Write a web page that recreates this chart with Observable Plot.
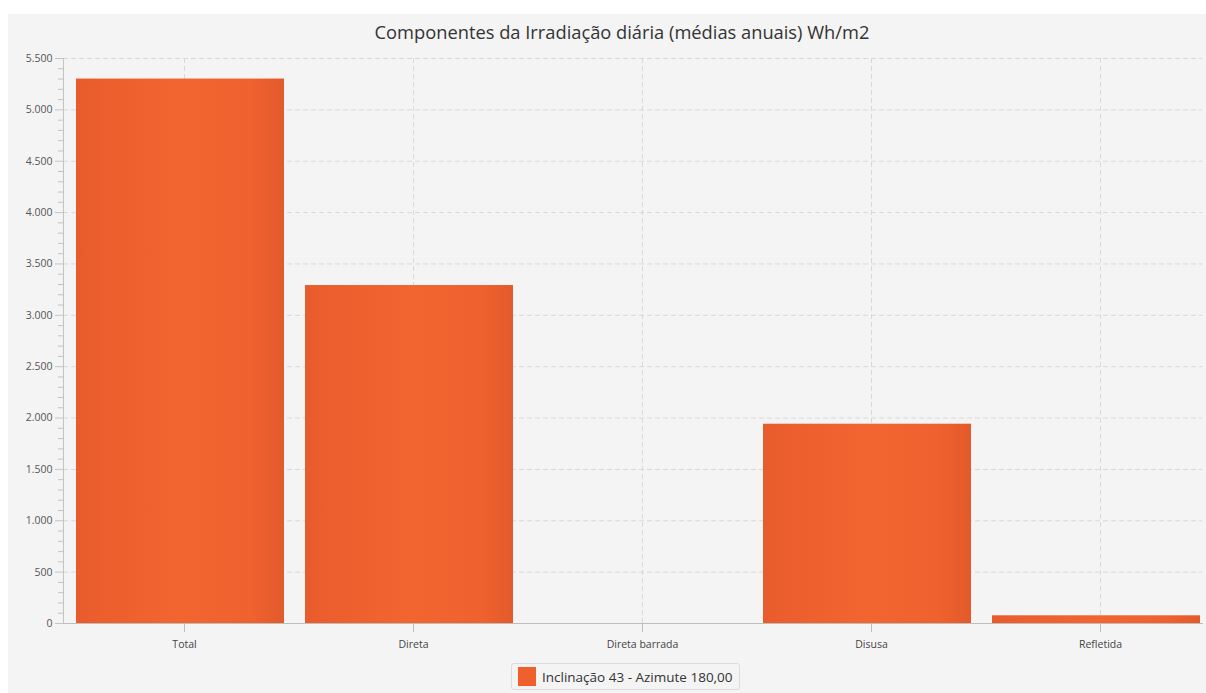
<!DOCTYPE html>
<html>
<head>
<meta charset="utf-8">
<script src="https://cdn.jsdelivr.net/npm/d3@7"></script>
<script src="https://cdn.jsdelivr.net/npm/@observablehq/plot@0.6"></script>
<style>
  html, body { margin: 0; padding: 0; background: #ffffff; }
  body { width: 1206px; height: 693px; position: relative; overflow: hidden; font-family: "Open Sans", "Noto Sans", sans-serif; }
  #panel { position: absolute; left: 8px; top: 14px; width: 1198px; height: 679px; background: #f4f4f4; }
  #title { position: absolute; left: 0; width: 1244px; text-align: center; top: 22px; font-size: 18.3px; color: #333; line-height: 20px; }
  #chart { position: absolute; left: 0; top: 40px; }
  #legend { position: absolute; left: 511px; top: 663px; height: 27px; padding: 0 6px; box-sizing: border-box;
            border: 1px solid #dcdcdc; border-radius: 3px; background: #f4f4f4;
            display: flex; align-items: center; gap: 6px; font-size: 13.5px; color: #333; }
  #legend .sw { width: 18px; height: 19px; background: #f0602d; }
</style>
</head>
<body>
<div id="panel"></div>
<div id="title">Componentes da Irradiação diária (médias anuais) Wh/m2</div>
<div id="chart"></div>
<div id="legend"><span class="sw"></span><span id="legend-label"></span></div>
<script>
// Componentes da irradiação diária, médias anuais (Wh/m2)
const categories = ["Total", "Direta", "Direta barrada", "Disusa", "Refletida"];
const values = [5300, 3290, 0, 1940, 75];
const seriesName = "Inclinação 43 - Azimute 180,00";
const yTicks = [0, 500, 1000, 1500, 2000, 2500, 3000, 3500, 4000, 4500, 5000, 5500];
const yMinorTicks = d3.range(0, 5501, 100).filter(v => v % 500 !== 0);

const data = categories.map((c, i) => ({category: c, value: values[i]}));

const fmt = d3.formatLocale({decimal: ",", thousands: ".", grouping: [3], currency: ["", ""]}).format(",");

document.getElementById("legend-label").textContent = seriesName;

const W = 1206, H = 620;

const chart = Plot.plot({
  width: W,
  height: H,
  marginLeft: 63,
  marginRight: 4,
  marginTop: 18,
  marginBottom: 37,
  style: {background: "transparent", fontFamily: "'Open Sans', 'Noto Sans', sans-serif"},
  x: {domain: categories, range: [68.25, 1215.75], paddingInner: 0.091, paddingOuter: 0.0455, label: null},
  y: {domain: [0, 5500], label: null},
  marks: [
    // dashed grid
    Plot.gridY(yTicks.filter(d => d > 0), {stroke: "#d9d9d9", strokeOpacity: 1, strokeDasharray: "5,3"}),
    Plot.gridX(categories, {stroke: "#d9d9d9", strokeOpacity: 1, strokeDasharray: "5,3"}),
    // bars
    Plot.barY(data, {x: "category", y: "value", fill: "url(#barGradient)", dx: -4}),
    // axis lines
    Plot.frame({anchor: "left", stroke: "#c4c4c4"}),
    Plot.frame({anchor: "bottom", stroke: "#bdbdbd"}),
    // y axis: major and minor ticks
    Plot.axisY(yTicks, {tickSize: 8, tickPadding: 3, tickFormat: fmt, stroke: "#c4c4c4", fill: "#555", fontSize: 10.5}),
    Plot.axisY(yMinorTicks, {tickSize: 5, tickFormat: () => "", stroke: "#c4c4c4"}),
    // x axis
    Plot.axisX(categories, {tickSize: 9, tickPadding: 8, stroke: "#bdbdbd", fill: "#444", fontSize: 10.5})
  ]
});

// horizontal shading of the bars
const ns = "http://www.w3.org/2000/svg";
const defs = document.createElementNS(ns, "defs");
const grad = document.createElementNS(ns, "linearGradient");
grad.setAttribute("id", "barGradient");
grad.setAttribute("x1", "0"); grad.setAttribute("x2", "1");
grad.setAttribute("y1", "0"); grad.setAttribute("y2", "0");
[["0", "#e85b2c"], ["0.12", "#ec5e2d"], ["0.5", "#f26531"], ["0.85", "#ef612e"], ["1", "#e35a2b"]].forEach(([o, c]) => {
  const s = document.createElementNS(ns, "stop");
  s.setAttribute("offset", o);
  s.setAttribute("stop-color", c);
  grad.appendChild(s);
});
defs.appendChild(grad);
chart.insertBefore(defs, chart.firstChild);

document.getElementById("chart").appendChild(chart);
</script>
</body>
</html>
